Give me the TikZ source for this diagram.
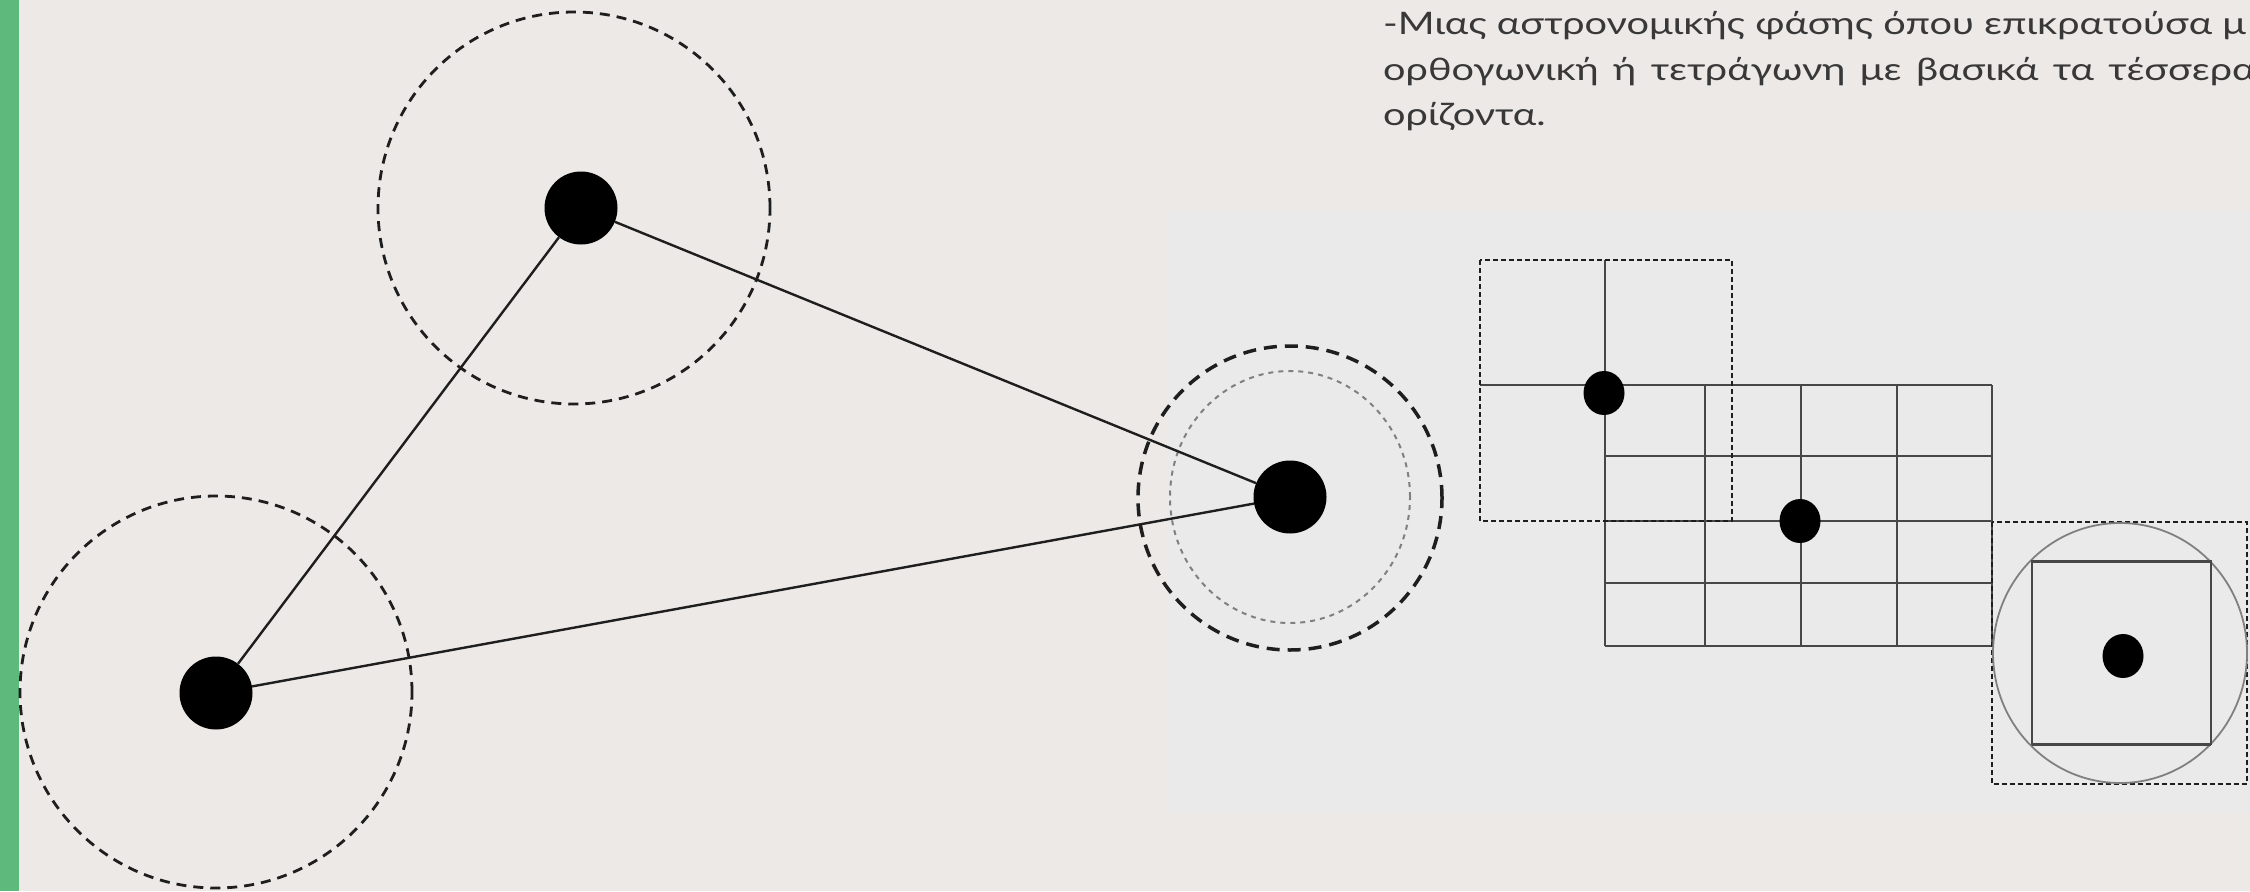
\documentclass[tikz,border=0pt]{standalone}
\usepackage{fontspec}
\setmainfont{Lato}[FakeStretch=1.28]
\usetikzlibrary{shapes.geometric}
\definecolor{bg}{HTML}{ECE9E6}
\definecolor{panel}{HTML}{EAEAEA}
\definecolor{greenbar}{HTML}{5DB97C}
\definecolor{txt}{HTML}{383838}
\definecolor{ink}{HTML}{1E1E1E}
\definecolor{gridc}{HTML}{474747}
\definecolor{softgray}{HTML}{808080}
\begin{document}
\begin{tikzpicture}[x=1pt,y=-1pt,
  bigdot/.style={circle,fill=black,draw=none,inner sep=0pt,minimum size=73pt},
  smalldot/.style={ellipse,fill=black,draw=none,inner sep=0pt,minimum width=41pt,minimum height=44pt},
  ring/.style={circle,draw=ink,dash pattern=on 10pt off 7pt,line width=2.8pt,inner sep=0pt,minimum size=#1},
  link/.style={draw=ink,line width=2.4pt},
  gridline/.style={draw=gridc,line width=2pt},
  dashbox/.style={draw=ink,dash pattern=on 5pt off 3pt,line width=2.8pt},
  txtline/.style={anchor=base west,inner sep=0pt,text=txt,font=\fontsize{31pt}{45pt}\selectfont}
]
\useasboundingbox (0,0) rectangle (2250,891);
\clip (0,0) rectangle (2250,891);
\fill[bg] (0,0) rectangle (2250,891);
\fill[greenbar] (0,0) rectangle (18.5,891);
\fill[panel] (1167,212) rectangle (2250,812);

% text
\node[txtline] (t1) at (1383,35) {-Μιας αστρονομικής φάσης όπου επικρατούσα μ};
\node[txtline] (t2) at (1383,80) {\makebox[872pt][s]{ορθογωνική ή τετράγωνη με βασικά τα τέσσερα}};
\node[txtline] (t3) at (1383,125) {ορίζοντα.};

% left triangle diagram
\node[ring=392pt] (ringA) at (574,208) {};
\node[ring=392pt] (ringB) at (216,692) {};
\node[circle,draw=ink,dash pattern=on 13pt off 8pt,line width=3.5pt,inner sep=0pt,minimum size=304pt] (ringC) at (1290,498) {};
\node[ellipse,draw=softgray,dash pattern=on 5pt off 5pt,line width=2pt,inner sep=0pt,minimum width=240pt,minimum height=252pt] (ringCi) at (1290,497) {};
\node[bigdot] (A) at (581,208) {};
\node[bigdot] (B) at (216,693) {};
\node[bigdot] (C) at (1290,497) {};
\draw[link] (A) -- (B);
\draw[link] (A) -- (C);
\draw[link] (B) -- (C);

% grid diagram
\draw[gridline] (1605,260) -- (1605,646);
\foreach \x in {1705,1801,1897,1992} \draw[gridline] (\x,385) -- (\x,646);
\draw[gridline] (1480,385) -- (1992,385);
\foreach \y in {456,521,583,646} \draw[gridline] (1605,\y) -- (1992,\y);
\draw[dashbox] (1480,260) rectangle (1732,521);
\draw[dashbox] (1992,522) rectangle (2247,784);
\draw[softgray,line width=1.8pt] (2120,653) ellipse [x radius=127pt,y radius=130pt];
\draw[gridc,line width=2pt] (2032,561) rectangle (2211,744);
\draw[gridc,line width=3pt] (2032,561) -- (2211,561);
\draw[gridc,line width=3pt] (2032,744) -- (2211,744);
\node[smalldot] (d1) at (1604,393) {};
\node[smalldot] (d2) at (1800,521) {};
\node[smalldot] (d3) at (2123,656) {};
\end{tikzpicture}
\end{document}
